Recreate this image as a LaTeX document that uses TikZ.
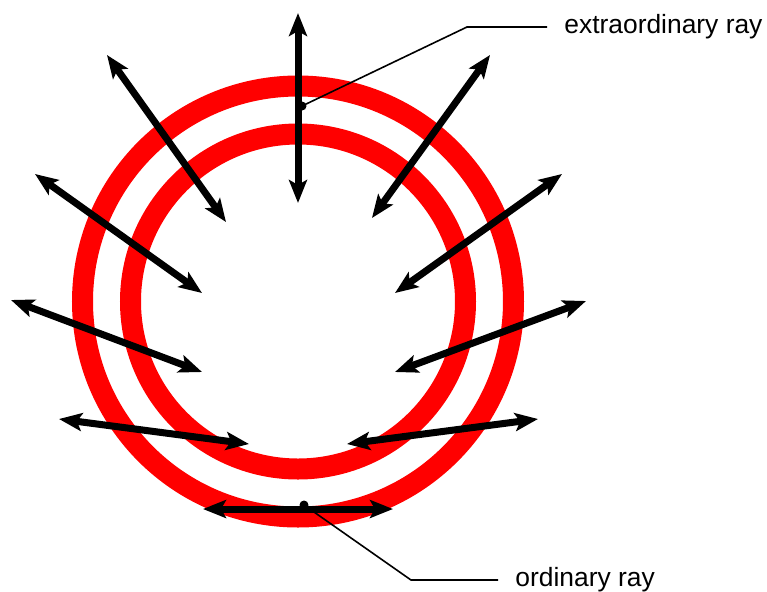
\documentclass[tikz,border=0pt]{standalone}
\usepackage{fontspec}
\setmainfont{Liberation Sans}
\usetikzlibrary{arrows.meta}

\begin{document}
\begin{tikzpicture}[x=0.5pt,y=-0.5pt,
    ring/.style={draw=red,line width=10.5pt},
    ray/.style={{Stealth[length=11.5pt,width=9pt,inset=2.5pt]}-{Stealth[length=11.5pt,width=9pt,inset=2.5pt]},line width=3.5pt},
    lead/.style={line width=0.8pt},
    lbl/.style={anchor=west,inner xsep=8.5pt,inner ysep=0pt,font=\fontsize{13.2}{15}\selectfont},
    dot/.style={circle,fill,inner sep=0pt,minimum size=4.5pt},
]
\useasboundingbox (0,0) rectangle (767,591);

% Rings
\coordinate (ctr) at (298,301.5);
\draw[ring] (ctr) circle[radius=215.5];
\draw[ring] (ctr) circle[radius=167.5];

% Ray end points
\coordinate (r1a) at (298,13);  \coordinate (r1b) at (298,203);
\coordinate (r2a) at (107,55);  \coordinate (r2b) at (226,222);
\coordinate (r3a) at (490,55);  \coordinate (r3b) at (372,218);
\coordinate (r4a) at (35,174);  \coordinate (r4b) at (202,293);
\coordinate (r5a) at (562,174); \coordinate (r5b) at (395,293);
\coordinate (r6a) at (11,300);  \coordinate (r6b) at (202,372);
\coordinate (r7a) at (586,301); \coordinate (r7b) at (395,372);
\coordinate (r8a) at (59,419);  \coordinate (r8b) at (249,444);
\coordinate (r9a) at (538,419); \coordinate (r9b) at (347,444);
\coordinate (r10a) at (203,509); \coordinate (r10b) at (393,509);

% Rays
\draw[ray] (r1a) -- (r1b);
\draw[ray] (r2a) -- (r2b); \draw[ray] (r3a) -- (r3b);
\draw[ray] (r4a) -- (r4b); \draw[ray] (r5a) -- (r5b);
\draw[ray] (r6a) -- (r6b); \draw[ray] (r7a) -- (r7b);
\draw[ray] (r8a) -- (r8b); \draw[ray] (r9a) -- (r9b);
\draw[ray] (r10a) -- (r10b);

% Labels
\node[dot] (xdot) at (302,106) {};
\coordinate (xbend) at (467,27);
\node[lbl] (xlbl) at (547,27) {extraordinary ray};
\draw[lead] (xdot.center) -- (xbend) -- (xlbl.west);

\node[dot] (odot) at (304,505) {};
\coordinate (obend) at (411,580);
\node[lbl] (olbl) at (498,580) {ordinary ray};
\draw[lead] (odot.center) -- (obend) -- (olbl.west);
\end{tikzpicture}
\end{document}
